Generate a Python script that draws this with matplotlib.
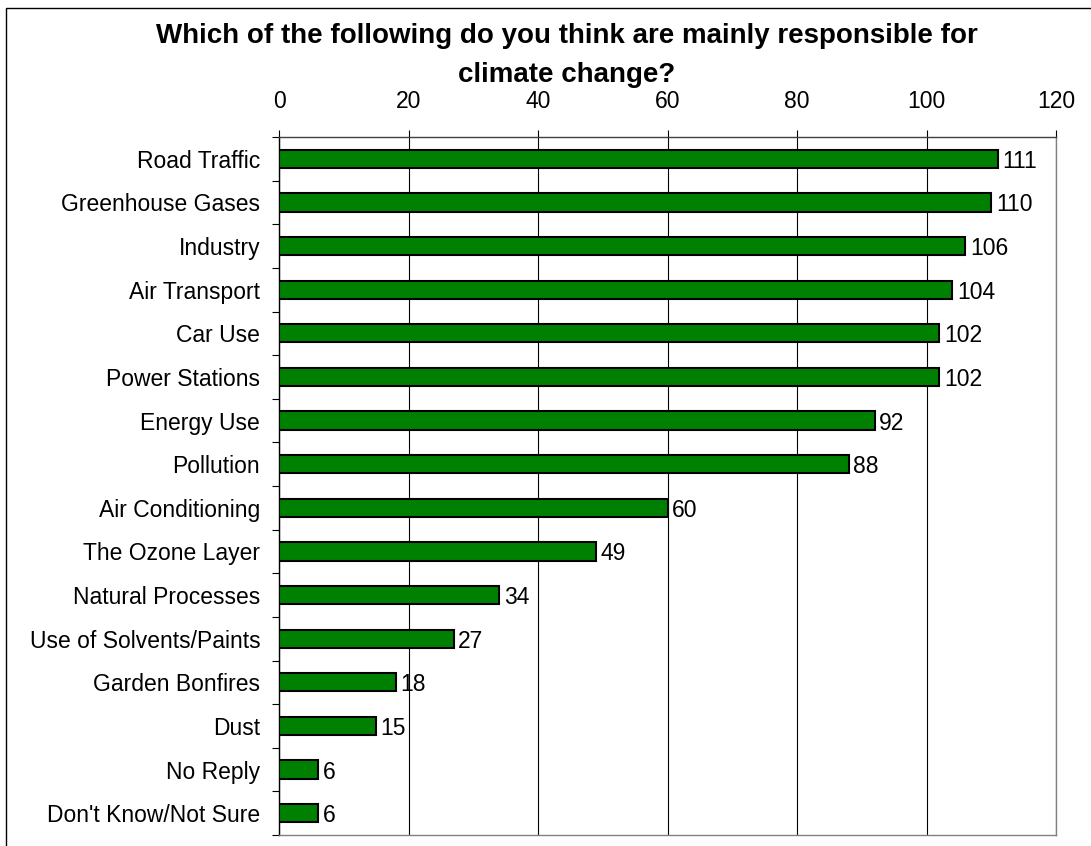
import matplotlib
matplotlib.use("Agg")
import matplotlib.pyplot as plt
from matplotlib.patches import Rectangle
import numpy as np

plt.rcParams['font.family'] = ['Liberation Sans', 'DejaVu Sans']

categories = ["Road Traffic", "Greenhouse Gases", "Industry", "Air Transport",
              "Car Use", "Power Stations", "Energy Use", "Pollution",
              "Air Conditioning", "The Ozone Layer", "Natural Processes",
              "Use of Solvents/Paints", "Garden Bonfires", "Dust",
              "No Reply", "Don't Know/Not Sure"]
counts = [111, 110, 106, 104, 102, 102, 92, 88, 60, 49, 34, 27, 18, 15, 6, 6]
x_ticks = [0, 20, 40, 60, 80, 100, 120]
title_lines = ["Which of the following do you think are mainly responsible for",
               "climate change?"]

W, H = 1091, 846
fig = plt.figure(figsize=(W / 100, H / 100), dpi=100)
FS = 16.5

# outer chart border (runs off the right and bottom edges)
fig.patches.append(Rectangle((6 / W, -0.05), 1.2, 1.05 - 8 / H,
                             transform=fig.transFigure, fill=False,
                             edgecolor='black', linewidth=1.0))

ax = fig.add_axes([279 / W, 11 / H, (1056 - 279) / W, (835 - 137) / H])

y = np.arange(len(categories))
ax.barh(y, counts, height=0.42, color='#008000', edgecolor='black',
        linewidth=1.5, zorder=3)
for yi, v in zip(y, counts):
    ax.text(v + 0.7, yi, str(v), va='center_baseline', ha='left',
            fontsize=FS, zorder=4)

ax.set_xlim(0, 120)
ax.set_ylim(len(categories) - 0.5, -0.5)
ax.set_xticks(x_ticks)
ax.xaxis.tick_top()
ax.tick_params(axis='x', direction='out', length=5, width=0.8, pad=12,
               labelsize=FS, colors='black')
ax.set_yticks(y)
ax.set_yticklabels(categories)
ax.tick_params(axis='y', which='major', length=0, pad=13.5, labelsize=FS)
ax.set_yticks(np.arange(-0.5, len(categories), 1.0), minor=True)
ax.tick_params(axis='y', which='minor', direction='out', length=5, width=0.8)

ax.grid(axis='x', color='black', linewidth=0.8, zorder=0)
ax.spines['left'].set_color('black')
ax.spines['top'].set_color('#404040')
ax.spines['right'].set_color('#808080')
ax.spines['bottom'].set_color('#808080')
for s in ax.spines.values():
    s.set_linewidth(1.0)

for line, ypix in zip(title_lines, [43, 82]):
    fig.text(567 / W, 1 - ypix / H, line, ha='center', va='baseline',
             fontsize=20, fontweight='bold')

fig.savefig("out.png", dpi=100)
